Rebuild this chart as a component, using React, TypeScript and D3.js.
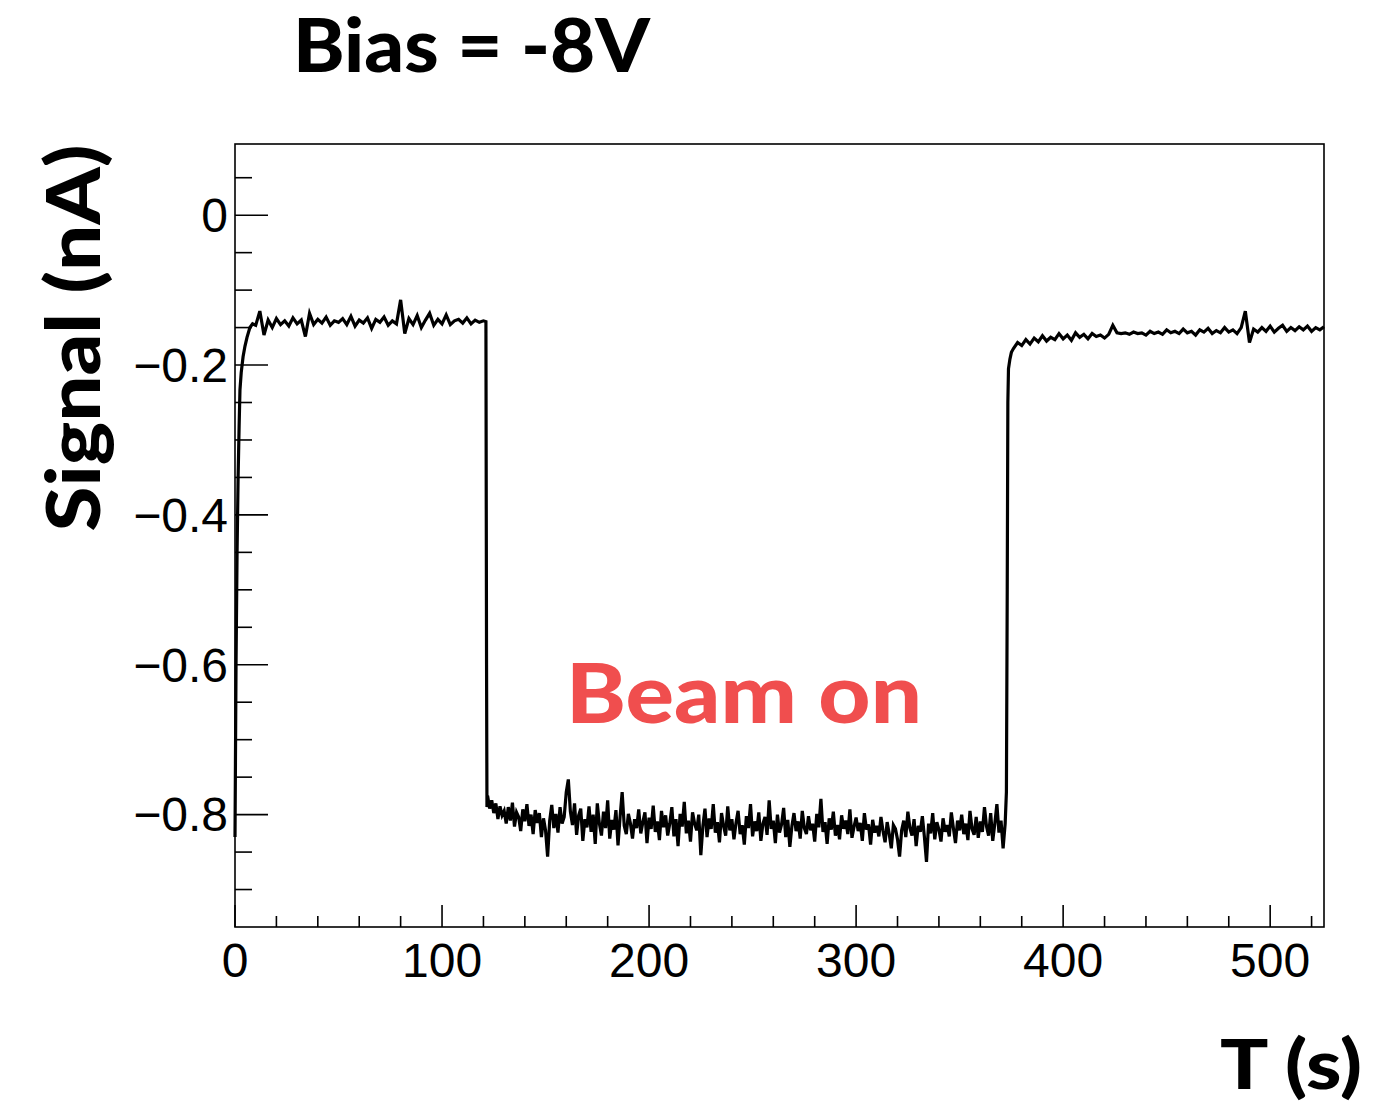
import React from "react";
import * as d3 from "d3";

// ---------- data ----------
// start-up transient (t in s, signal in nA)
const riseTimes = [0, 0.5, 1.0, 1.5, 2.0, 2.4, 3.0, 3.9, 4.8, 5.8, 7.2, 8.5];
const riseValues = [-0.83, -0.6, -0.45, -0.35, -0.28, -0.233, -0.21, -0.189, -0.175, -0.163, -0.15, -0.145];

// beam-off baseline, t = 10..120 every 2 s
const baseStart = 10;
const baseStep = 2;
const baseValues = [
  -0.147, -0.128, -0.160, -0.140, -0.150, -0.138, -0.146, -0.141, -0.148, -0.137,
  -0.145, -0.140, -0.162, -0.131, -0.146, -0.139, -0.144, -0.136, -0.147, -0.141,
  -0.143, -0.138, -0.146, -0.135, -0.148, -0.140, -0.144, -0.137, -0.151, -0.139,
  -0.143, -0.136, -0.147, -0.141, -0.145, -0.113, -0.158, -0.138, -0.146, -0.134,
  -0.150, -0.140, -0.131, -0.147, -0.139, -0.145, -0.133, -0.146, -0.141, -0.139,
  -0.144, -0.137, -0.145, -0.140, -0.143, -0.141,
];

// beam switched on
const dropTimes = [121.2, 121.5, 121.7];
const dropValues = [-0.142, -0.6, -0.79];

// beam on, t = 122..372 every 1 s
const beamStart = 122;
const beamStep = 1;
const beamValues = [
  -0.775, -0.792, -0.781, -0.798, -0.785, -0.806, -0.789, -0.801, -0.795, -0.812,
  -0.790, -0.808, -0.784, -0.816, -0.797, -0.803, -0.822, -0.793, -0.809, -0.786,
  -0.815, -0.800, -0.826, -0.794, -0.811, -0.798, -0.830, -0.805, -0.821, -0.856,
  -0.808, -0.787, -0.818, -0.799, -0.824, -0.790, -0.812, -0.803, -0.770, -0.753,
  -0.796, -0.814, -0.785, -0.827, -0.801, -0.792, -0.835, -0.806, -0.817, -0.789,
  -0.823, -0.800, -0.839, -0.785, -0.812, -0.828, -0.796, -0.818, -0.781, -0.832,
  -0.807, -0.820, -0.794, -0.841, -0.803, -0.770, -0.815, -0.826, -0.799, -0.812,
  -0.832, -0.806, -0.818, -0.793, -0.825, -0.810, -0.797, -0.838, -0.804, -0.819,
  -0.788, -0.823, -0.809, -0.834, -0.795, -0.817, -0.801, -0.828, -0.812, -0.790,
  -0.829, -0.806, -0.842, -0.799, -0.816, -0.783, -0.825, -0.808, -0.836, -0.797,
  -0.812, -0.821, -0.800, -0.854, -0.815, -0.792, -0.830, -0.805, -0.819, -0.786,
  -0.824, -0.810, -0.837, -0.798, -0.815, -0.828, -0.789, -0.821, -0.806, -0.833,
  -0.811, -0.795, -0.826, -0.814, -0.840, -0.802, -0.818, -0.786, -0.829, -0.809,
  -0.822, -0.797, -0.835, -0.812, -0.803, -0.827, -0.781, -0.819, -0.808, -0.838,
  -0.800, -0.824, -0.813, -0.791, -0.830, -0.807, -0.843, -0.815, -0.798, -0.822,
  -0.809, -0.832, -0.795, -0.818, -0.826, -0.802, -0.821, -0.812, -0.836, -0.799,
  -0.817, -0.779, -0.823, -0.810, -0.839, -0.805, -0.820, -0.796, -0.828, -0.814,
  -0.833, -0.801, -0.819, -0.808, -0.826, -0.793, -0.831, -0.816, -0.804, -0.822,
  -0.811, -0.835, -0.798, -0.820, -0.813, -0.840, -0.807, -0.824, -0.815, -0.829,
  -0.803, -0.822, -0.837, -0.810, -0.826, -0.845, -0.814, -0.819, -0.833, -0.856,
  -0.821, -0.808, -0.830, -0.796, -0.818, -0.828, -0.806, -0.842, -0.815, -0.823,
  -0.802, -0.830, -0.863, -0.812, -0.825, -0.798, -0.833, -0.810, -0.820, -0.836,
  -0.805, -0.823, -0.814, -0.829, -0.797, -0.818, -0.838, -0.808, -0.821, -0.800,
  -0.826, -0.812, -0.834, -0.795, -0.819, -0.827, -0.803, -0.831, -0.809, -0.823,
  -0.790, -0.816, -0.828, -0.798, -0.835, -0.812, -0.786, -0.824, -0.808, -0.845,
  -0.812,
];

// beam switched off
const recoverTimes = [372.6, 373.0, 373.3, 373.6, 374.3, 375.0];
const recoverValues = [-0.77, -0.5, -0.25, -0.205, -0.192, -0.183];

// beam-off again, t = 376..526 every 2 s
const afterStart = 376;
const afterStep = 2;
const afterValues = [
  -0.178, -0.170, -0.174, -0.166, -0.172, -0.164, -0.169, -0.161, -0.168, -0.163,
  -0.166, -0.158, -0.165, -0.160, -0.167, -0.157, -0.163, -0.159, -0.165, -0.158,
  -0.162, -0.160, -0.164, -0.159, -0.147, -0.157, -0.158, -0.157, -0.159, -0.156,
  -0.158, -0.157, -0.160, -0.155, -0.158, -0.156, -0.159, -0.153, -0.157, -0.155,
  -0.158, -0.152, -0.157, -0.155, -0.160, -0.153, -0.156, -0.151, -0.158, -0.154,
  -0.157, -0.150, -0.156, -0.153, -0.158, -0.150, -0.128, -0.170, -0.152, -0.156,
  -0.150, -0.155, -0.148, -0.156, -0.151, -0.147, -0.155, -0.150, -0.154, -0.149,
  -0.153, -0.148, -0.155, -0.150, -0.153, -0.149,
];

const xTicks = [0, 100, 200, 300, 400, 500];
const yTicks = [0, -0.2, -0.4, -0.6, -0.8];
const xDomain = [0, 526];
const yDomain = [-0.95, 0.095];

const titleText = "Bias = -8V";
const xTitle = "T (s)";
const yTitle = "Signal (nA)";
const annotation = "Beam on";

// ---------- build series ----------
type Pt = [number, number];
const regular = (start: number, step: number, vals: number[]): Pt[] =>
  vals.map((v, i) => [start + i * step, v]);
const paired = (ts: number[], vs: number[]): Pt[] => ts.map((t, i) => [t, vs[i]]);

const series: Pt[] = [
  ...paired(riseTimes, riseValues),
  ...regular(baseStart, baseStep, baseValues),
  ...paired(dropTimes, dropValues),
  ...regular(beamStart, beamStep, beamValues),
  ...paired(recoverTimes, recoverValues),
  ...regular(afterStart, afterStep, afterValues),
];

export default function App() {
  const W = 1374;
  const H = 1106;
  const left = 235;
  const right = 1324;
  const top = 144;
  const bottom = 927;

  const x = d3.scaleLinear().domain(xDomain).range([left, right]);
  const y = d3.scaleLinear().domain(yDomain).range([bottom, top]);

  const line = d3
    .line<Pt>()
    .x((d) => x(d[0]))
    .y((d) => y(d[1]));

  const xMinor = d3.range(20, 526, 20).filter((v) => v % 100 !== 0);
  const yMinor = d3
    .range(-0.9, 0.09, 0.05)
    .map((v) => Math.round(v * 100) / 100)
    .filter((v) => Math.abs(Math.round(v * 10) / 10 - v) > 1e-6 || Math.round(v * 10) % 2 !== 0);

  const tickFont = "'Liberation Sans', Arial, Helvetica, sans-serif";
  const boldFont = "Lato, 'Open Sans', sans-serif";

  const fmtY = (v: number) => (v === 0 ? "0" : (v < 0 ? "\u2212" : "") + Math.abs(v).toFixed(1));

  return (
    <svg
      width={W}
      height={H}
      viewBox={`0 0 ${W} ${H}`}
      style={{ position: "absolute", left: 0, top: 0, background: "#fff" }}
    >
      <rect x={0} y={0} width={W} height={H} fill="#fff" />
      {/* frame */}
      <rect
        x={left}
        y={top}
        width={right - left}
        height={bottom - top}
        fill="none"
        stroke="#000"
        strokeWidth={1.6}
      />
      {/* x ticks */}
      {xTicks.map((t) => (
        <line key={"xm" + t} x1={x(t)} x2={x(t)} y1={bottom} y2={bottom - 22} stroke="#000" strokeWidth={1.6} />
      ))}
      {xMinor.map((t) => (
        <line key={"xn" + t} x1={x(t)} x2={x(t)} y1={bottom} y2={bottom - 11} stroke="#000" strokeWidth={1.6} />
      ))}
      {xTicks.map((t) => (
        <text
          key={"xl" + t}
          x={x(t)}
          y={977}
          textAnchor="middle"
          fontFamily={tickFont}
          fontSize={48}
          fill="#000"
        >
          {t}
        </text>
      ))}
      {/* y ticks */}
      {yTicks.map((t) => (
        <line key={"ym" + t} x1={left} x2={left + 33} y1={y(t)} y2={y(t)} stroke="#000" strokeWidth={1.6} />
      ))}
      {yMinor.map((t) => (
        <line key={"yn" + t} x1={left} x2={left + 17} y1={y(t)} y2={y(t)} stroke="#000" strokeWidth={1.6} />
      ))}
      {yTicks.map((t) => (
        <text
          key={"yl" + t}
          x={228}
          y={y(t)}
          dy="0.35em"
          textAnchor="end"
          fontFamily={tickFont}
          fontSize={48}
          fill="#000"
        >
          {fmtY(t)}
        </text>
      ))}
      {/* data line */}
      <path d={line(series) || ""} fill="none" stroke="#000" strokeWidth={3.2} strokeLinejoin="miter" />
      {/* texts */}
      <text
        x={293}
        y={72}
        fontFamily={boldFont}
        fontWeight={900}
        fontSize={74}
        textLength={357}
        lengthAdjust="spacingAndGlyphs"
        fill="#000"
      >
        {titleText}
      </text>
      <text
        x={1220}
        y={1089}
        fontFamily={boldFont}
        fontWeight={900}
        fontSize={68}
        textLength={142}
        lengthAdjust="spacingAndGlyphs"
        fill="#000"
      >
        {xTitle}
      </text>
      <text
        transform="translate(100,338) rotate(-90)"
        x={0}
        y={0}
        textAnchor="middle"
        fontFamily={boldFont}
        fontWeight={900}
        fontSize={74}
        textLength={387}
        lengthAdjust="spacingAndGlyphs"
        fill="#000"
      >
        {yTitle}
      </text>
      <text
        x={566}
        y={723}
        fontFamily={boldFont}
        fontWeight={900}
        fontSize={82}
        textLength={356}
        lengthAdjust="spacingAndGlyphs"
        fill="#f04e4e"
      >
        {annotation}
      </text>
    </svg>
  );
}
